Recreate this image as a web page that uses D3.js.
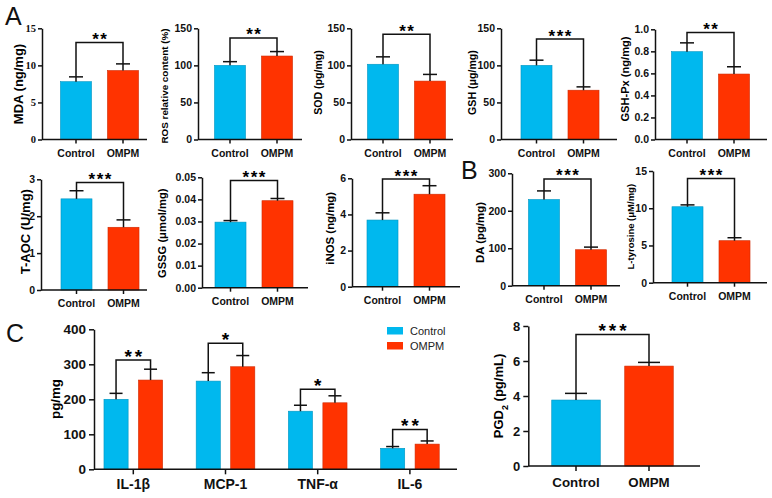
<!DOCTYPE html>
<html>
<head>
<meta charset="UTF-8">
<title>OMPM oxidative stress / neurotransmitter / cytokine panels</title>
<style>
  body { margin: 0; background: #fff; }
  svg { display: block; font-family: Arial, "Liberation Sans", sans-serif; }
  .axis path, .axis line { stroke: #111; stroke-width: 1.5; }
  .axis text { font-weight: bold; fill: #111; }
  .err, .bracket { stroke: #111; stroke-width: 1.5; fill: none; }
</style>
</head>
<body>
<svg id="chart" width="772" height="498"></svg>
<script src="https://d3js.org/d3.v7.min.js"></script>
<script>
// groups
var groups = ["Control", "OMPM"];
var groupColors = ["#00B8EE", "#FF3300"];

// panels A + B, one entry per small chart
var panelNames = ["MDA (ng/mg)", "ROS relative content (%)", "SOD (pg/mg)", "GSH (μg/mg)", "GSH-Px (ng/mg)",
                  "T-AOC (U/mg)", "GSSG (μmol/mg)", "iNOS (ng/mg)", "DA (pg/mg)", "L-tyrosine (μM/mg)"];
var controlMean = [7.8, 100, 101.5, 100, 0.797, 2.47, 0.0297, 3.69, 230, 10.2];
var controlSD   = [0.65, 5, 10, 7, 0.08, 0.22, 0.0007, 0.4, 23, 0.25];
var ompmMean    = [9.3, 112.6, 78.8, 66.5, 0.594, 1.70, 0.0394, 5.12, 96, 5.64];
var ompmSD      = [0.9, 6, 9, 4.5, 0.066, 0.2, 0.001, 0.47, 7, 0.4];
var panelStars  = ["**", "**", "**", "***", "**", "***", "***", "***", "***", "***"];
var bracketAt   = [13.1, 137, 142, 135.6, 0.97, 2.91, 0.0485, 5.96, 285, 14];
var yMax        = [15, 150, 150, 150, 1, 3, 0.05, 6, 300, 15];
var yStep       = [5, 50, 50, 50, 0.2, 1, 0.01, 2, 100, 5];
var tickDigits  = [0, 0, 0, 0, 1, 0, 2, 0, 0, 0];

// panel C
var cytokines = ["IL-1β", "MCP-1", "TNF-α", "IL-6"];
var cytoControl   = [200, 252, 166, 60];
var cytoControlSD = [17, 24, 17, 5];
var cytoOMPM      = [255, 293, 190, 72];
var cytoOMPMSD    = [31, 32, 20, 9];
var cytoStars     = ["**", "*", "*", "**"];
var cytoBracket   = [312, 360, 229, 114];
var cytoTicks     = [0, 100, 200, 300, 400];

// PGD2 panel
var pgdMean = [3.77, 5.71];
var pgdSD   = [0.38, 0.21];
var pgdBracket = 7.52;
var pgdStars = "***";
var pgdTicks = [0, 2, 4, 6, 8];

// where each small chart sits: y-axis x, x-axis end, first bar centre, top/zero pixel,
// label centre and label font size
var layout = [
  {ax: 42,  end: 147, c1: 76,    top: 28.3,  zero: 139.5, lx: 18,    ly: 84,    lfs: 13},
  {ax: 198, end: 302, c1: 230,   top: 28.3,  zero: 139.5, lx: 165,   ly: 86,    lfs: 9.9},
  {ax: 351, end: 453, c1: 383,   top: 28.3,  zero: 139.5, lx: 318.5, ly: 82.5,  lfs: 10.6},
  {ax: 501, end: 617, c1: 536.5, top: 28.3,  zero: 139.5, lx: 472.5, ly: 82.5,  lfs: 10.6},
  {ax: 655, end: 767, c1: 687,   top: 29.3,  zero: 139.5, lx: 625.5, ly: 79,    lfs: 11.1},
  {ax: 41,  end: 147, c1: 76.5,  top: 179.3, zero: 290,   lx: 25,    ly: 231.7, lfs: 13},
  {ax: 202, end: 308, c1: 230.5, top: 177.3, zero: 287.7, lx: 162.5, ly: 233.3, lfs: 11.2},
  {ax: 352, end: 460, c1: 382.5, top: 178.3, zero: 286.7, lx: 329.5, ly: 228.3, lfs: 11.4},
  {ax: 512, end: 620, c1: 544,   top: 173.3, zero: 285.7, lx: 480,   ly: 232.5, lfs: 11.4},
  {ax: 653, end: 767, c1: 687.5, top: 171,   zero: 282.7, lx: 631,   ly: 226.7, lfs: 9.5}
];

var svg = d3.select("#chart");
var FF = 'Arial, "Liberation Sans", sans-serif';

// bars + upward error bars + significance bracket for one pair
function drawPair(g, cx, bw, y, means, sds, bVal, stars, capW, starSize, starGap) {
  means.forEach(function(m, i) {
    var xc = cx[i];
    g.append("rect")
      .attr("x", xc - bw / 2).attr("width", bw)
      .attr("y", y(m)).attr("height", y(0) - y(m))
      .attr("fill", groupColors[i])
      .attr("stroke", d3.color(groupColors[i]).darker(0.6))
      .attr("stroke-width", 0.6);
    g.append("line").attr("class", "err")
      .attr("x1", xc).attr("x2", xc).attr("y1", y(m)).attr("y2", y(m + sds[i]));
    g.append("line").attr("class", "err")
      .attr("x1", xc - capW / 2).attr("x2", xc + capW / 2)
      .attr("y1", y(m + sds[i])).attr("y2", y(m + sds[i]));
  });
  var yb = y(bVal);
  g.append("path").attr("class", "bracket")
    .attr("d", "M" + cx[0] + "," + y(means[0] + sds[0]) + "V" + yb + "H" + cx[1] + "V" + y(means[1] + sds[1]));
  g.append("text")
    .attr("x", (cx[0] + cx[1]) / 2 + starGap / 2).attr("y", yb + starSize * 0.15)
    .attr("text-anchor", "middle")
    .style("font-size", starSize + "px").style("font-weight", "bold")
    .style("letter-spacing", starGap + "px")
    .text(stars);
}

function yAxis(g, y, ticks, fmt, x0, fs, tlen, pad, ff) {
  var a = g.append("g").attr("class", "axis")
    .attr("transform", "translate(" + x0 + ",0)")
    .call(d3.axisLeft(y).tickValues(ticks).tickFormat(fmt).tickSize(tlen).tickSizeOuter(0).tickPadding(pad));
  a.attr("font-family", ff || FF);
  a.selectAll("text").style("font-size", fs + "px");
}

function xAxis(g, x, y0, x0, x1, fs, tlen, pad) {
  var a = g.append("g").attr("class", "axis")
    .attr("transform", "translate(0," + y0 + ")")
    .call(d3.axisBottom(x).tickSize(tlen).tickPadding(pad));
  a.attr("font-family", FF);
  a.select(".domain").remove();
  a.selectAll("text").style("font-size", fs + "px");
  g.append("line").attr("x1", x0).attr("x2", x1).attr("y1", y0).attr("y2", y0)
    .attr("stroke", "#111").attr("stroke-width", 1.5);
}

function yLabel(g, lx, ly, txt, fs) {
  return g.append("text")
    .attr("transform", "translate(" + lx + "," + ly + ") rotate(-90)")
    .attr("text-anchor", "middle").attr("dy", "0.35em")
    .style("font-size", fs + "px").style("font-weight", "bold")
    .text(txt);
}

// ---- panels A and B ----
panelNames.forEach(function(name, k) {
  var L = layout[k];
  var g = svg.append("g");
  var step = 47;
  var x = d3.scaleBand().domain(groups)
    .range([L.c1 - step / 2, L.c1 + step * 1.5])
    .paddingInner(0.34).paddingOuter(0.17);
  var y = d3.scaleLinear().domain([0, yMax[k]]).range([L.zero, L.top]);
  var ticks = d3.range(0, yMax[k] + yStep[k] / 2, yStep[k]);
  var fmt = d3.format("." + tickDigits[k] + "f");
  var cx = groups.map(function(c) { return x(c) + x.bandwidth() / 2; });

  drawPair(g, cx, x.bandwidth(), y, [controlMean[k], ompmMean[k]], [controlSD[k], ompmSD[k]],
           bracketAt[k], panelStars[k], 14, 17, 1.5);
  yAxis(g, y, ticks, fmt, L.ax, 10.5, 4, 2, k === 0 ? '"Liberation Serif", "Times New Roman", serif' : null);
  xAxis(g, x, L.zero, L.ax, L.end, 10.5, 4, 6);
  yLabel(g, L.lx, L.ly, name, L.lfs);
});

// ---- panel C ----
(function() {
  var g = svg.append("g");
  var x0 = d3.scaleBand().domain(cytokines).range([87.2, 456]);
  var x1 = d3.scaleBand().domain(groups).range([-34.5, 34.5]).paddingInner(0.3).paddingOuter(0.15);
  var y = d3.scaleLinear().domain([0, 400]).range([469.3, 329.3]);
  cytokines.forEach(function(c, i) {
    var gc = x0(c) + x0.bandwidth() / 2;
    var cx = groups.map(function(s) { return gc + x1(s) + x1.bandwidth() / 2; });
    drawPair(g, cx, x1.bandwidth(), y, [cytoControl[i], cytoOMPM[i]], [cytoControlSD[i], cytoOMPMSD[i]],
             cytoBracket[i], cytoStars[i], 13, 19, 3);
  });
  yAxis(g, y, cytoTicks, d3.format("d"), 94, 13.5, 5, 3);
  xAxis(g, x0, 469.3, 94, 457, 14, 5, 5);
  yLabel(g, 55, 399, "pg/mg", 13.3);

  // legend
  var leg = g.append("g");
  groups.forEach(function(s, i) {
    leg.append("rect").attr("x", 387).attr("y", 327 + i * 15).attr("width", 16).attr("height", 7.5)
      .attr("fill", groupColors[i]);
    leg.append("text").attr("x", 410).attr("y", 334.5 + i * 15)
      .style("font-size", "11px").style("fill", "#222").text(s);
  });
})();

// ---- PGD2 panel ----
(function() {
  var g = svg.append("g");
  var step = 73;
  var x = d3.scaleBand().domain(groups).range([576 - step / 2, 576 + step * 1.5])
    .paddingInner(0.335).paddingOuter(0.1675);
  var y = d3.scaleLinear().domain([0, 8]).range([466, 326]);
  var cx = groups.map(function(c) { return x(c) + x.bandwidth() / 2; });
  drawPair(g, cx, x.bandwidth(), y, pgdMean, pgdSD, pgdBracket, pgdStars, 22, 19, 3);
  yAxis(g, y, pgdTicks, d3.format("d"), 528.3, 13, 5, 3);
  xAxis(g, x, 466, 528.3, 700, 13.3, 5, 6.5);
  var t = g.append("text")
    .attr("transform", "translate(498,396) rotate(-90)")
    .attr("text-anchor", "middle").attr("dy", "0.35em")
    .style("font-size", "13px").style("font-weight", "bold");
  t.append("tspan").text("PGD");
  t.append("tspan").attr("baseline-shift", "sub").style("font-size", "9px").text("2");
  t.append("tspan").text(" (pg/mL)");
})();

// panel letters
[["A", 5, 25], ["B", 461, 179], ["C", 6, 342]].forEach(function(p) {
  svg.append("text").attr("x", p[1]).attr("y", p[2])
    .style("font-size", "25px").style("fill", "#111").text(p[0]);
});
</script>
</body>
</html>
